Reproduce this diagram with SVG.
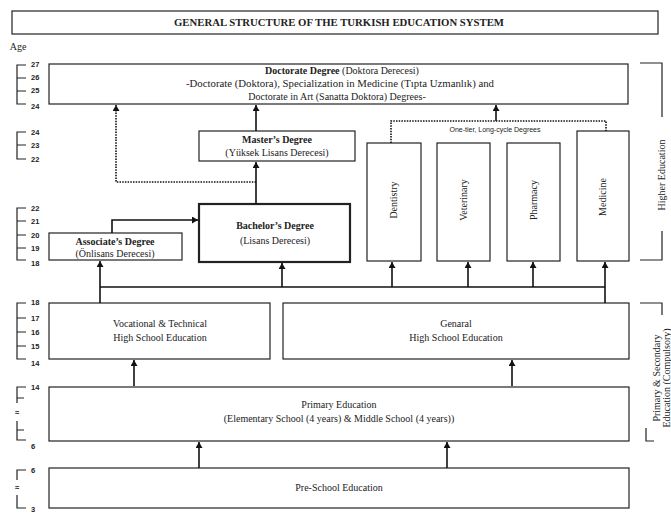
<svg xmlns="http://www.w3.org/2000/svg" width="671" height="515" viewBox="0 0 671 515">
<defs>
<marker id="ah" markerUnits="userSpaceOnUse" markerWidth="6" markerHeight="7" refX="6" refY="3.5" orient="auto"><path d="M0,0 L6,3.5 L0,7 z" fill="#111"/></marker>
<style>
.box{fill:#fff;stroke:#222;stroke-width:1.2}
.bold{stroke-width:2.2}
.t{font-family:"Liberation Serif",serif;font-size:10px;fill:#222;text-anchor:middle}
.b{font-weight:bold}
.s{font-family:"Liberation Sans",sans-serif;font-size:7px;fill:#222;text-anchor:middle}
.age{font-family:"Liberation Sans",sans-serif;font-size:7.5px;font-weight:bold;fill:#222}
.sc{fill:none;stroke:#222;stroke-width:1.2}
.c{fill:none;stroke:#111;stroke-width:1.6}
.d{fill:none;stroke:#111;stroke-width:1.6;stroke-dasharray:1.5 1.2}
</style>
</defs>
<rect width="671" height="515" fill="#fff"/>

<g id="title">
<rect class="box" x="12" y="11" width="646" height="23"/>
<text class="t b" x="339" y="26" font-size="10" textLength="330" lengthAdjust="spacingAndGlyphs">GENERAL STRUCTURE OF THE TURKISH EDUCATION SYSTEM</text>
</g>
<text class="t" x="18" y="50" text-anchor="start" font-size="9">Age</text>

<g id="age-scale">
<path class="sc" d="M26,65 H17 V104 H26 M17,78 H26 M17,91 H26"/>
<text class="age" x="31" y="67">27</text><text class="age" x="31" y="80">26</text><text class="age" x="31" y="93">25</text><text class="age" x="31" y="109">24</text>
<path class="sc" d="M26,132 H17 V159 H26 M17,145 H26"/>
<text class="age" x="31" y="135">24</text><text class="age" x="31" y="148">23</text><text class="age" x="31" y="162">22</text>
<path class="sc" d="M26,208 H17 V260 H26 M17,221 H26 M17,235 H26 M17,248 H26"/>
<text class="age" x="31" y="211">22</text><text class="age" x="31" y="224">21</text><text class="age" x="31" y="238">20</text><text class="age" x="31" y="251">19</text><text class="age" x="31" y="266">18</text>
<path class="sc" d="M26,303 H17 V359 H26 M17,318 H26 M17,332 H26 M17,346 H26"/>
<text class="age" x="31" y="305">18</text><text class="age" x="31" y="321">17</text><text class="age" x="31" y="335">16</text><text class="age" x="31" y="349">15</text><text class="age" x="31" y="366">14</text>
<path class="sc" d="M26,387 H17 V403 M17,398 H24 M17,421 V440 H26 M17,430 H24"/>
<text class="age" x="31" y="390">14</text><text class="age" x="31" y="449">6</text>
<text class="age" x="15" y="415" font-size="7">≈</text>
<path class="sc" d="M26,470 H17 V480 M17,495 V508 H26"/>
<text class="age" x="31" y="473">6</text><text class="age" x="31" y="512">3</text>
<text class="age" x="15" y="490" font-size="7">≈</text>
</g>

<g id="side-labels">
<path class="sc" d="M640,63 H662 V117 M662,231 V260 H640"/>
<text class="t" transform="translate(665,175) rotate(-90)">Higher Education</text>
<path class="sc" d="M640,303 H662 V315 M646,428 V441 H654"/>
<text class="t" transform="translate(660,378) rotate(-90)">Primary &amp; Secondary</text>
<text class="t" transform="translate(670,378) rotate(-90)">Education (Compulsory)</text>
</g>

<g id="doctorate">
<rect class="box" x="49" y="64" width="579" height="40"/>
<text class="t" x="342" y="74" font-size="10.5"><tspan class="b">Doctorate Degree</tspan> (Doktora Derecesi)</text>
<text class="t" x="340" y="87" font-size="10.5" textLength="308" lengthAdjust="spacingAndGlyphs">-Doctorate (Doktora), Specialization in Medicine (Tıpta Uzmanlık) and</text>
<text class="t" x="337" y="100" font-size="10.5">Doctorate in Art (Sanatta Doktora) Degrees-</text>
</g>
<g id="masters">
<rect class="box" x="199" y="131" width="156" height="30"/>
<text class="t b" x="277" y="143">Master’s Degree</text>
<text class="t" x="277" y="156">(Yüksek Lisans Derecesi)</text>
</g>
<g id="bachelors">
<rect class="box bold" x="199" y="204" width="151" height="58"/>
<text class="t b" x="275" y="229">Bachelor’s Degree</text>
<text class="t" x="275" y="244">(Lisans Derecesi)</text>
</g>
<g id="associate">
<rect class="box" x="49" y="233" width="133" height="27"/>
<text class="t b" x="115" y="245">Associate’s Degree</text>
<text class="t" x="115" y="257">(Önlisans Derecesi)</text>
</g>
<g id="dentistry">
<rect class="box" x="367" y="143" width="54" height="118"/>
<text class="t" transform="translate(397,200) rotate(-90)">Dentistry</text>
</g>
<g id="veterinary">
<rect class="box" x="437" y="143" width="53" height="118"/>
<text class="t" transform="translate(467,200) rotate(-90)">Veterinary</text>
</g>
<g id="pharmacy">
<rect class="box" x="507" y="143" width="53" height="118"/>
<text class="t" transform="translate(537,200) rotate(-90)">Pharmacy</text>
</g>
<g id="medicine">
<rect class="box" x="577" y="131" width="52" height="130"/>
<text class="t" transform="translate(606,197) rotate(-90)">Medicine</text>
</g>
<g id="vocational">
<rect class="box" x="49" y="303" width="221" height="56"/>
<text class="t" x="160" y="327">Vocational &amp; Technical</text>
<text class="t" x="160" y="341">High School Education</text>
</g>
<g id="general">
<rect class="box" x="283" y="303" width="346" height="56"/>
<text class="t" x="456" y="327">Genaral</text>
<text class="t" x="456" y="341">High School Education</text>
</g>
<g id="primary">
<rect class="box" x="49" y="387" width="580" height="54"/>
<text class="t" x="339" y="408">Primary Education</text>
<text class="t" x="339" y="422">(Elementary School (4 years) &amp; Middle School (4 years))</text>
</g>
<g id="preschool">
<rect class="box" x="49" y="468" width="580" height="40"/>
<text class="t" x="339" y="491">Pre-School Education</text>
</g>

<g id="connectors">
<path class="c" d="M256,131 V105" marker-end="url(#ah)"/>
<path class="c" d="M256,204 V162" marker-end="url(#ah)"/>
<path class="d" d="M256,182 H116 V105" marker-end="url(#ah)"/>
<path class="c" d="M112,233 V220 H198" marker-end="url(#ah)"/>
<path class="d" d="M391,143 V121 H606 V131"/>
<path class="c" d="M496,121 V105" marker-end="url(#ah)"/>
<text class="s" x="495" y="132">One-tier, Long-cycle Degrees</text>
<path class="c" d="M100,287 H605" stroke-width="2.4"/>
<path class="c" d="M100,303 V261" marker-end="url(#ah)"/>
<path class="c" d="M282,287 V263" marker-end="url(#ah)"/>
<path class="c" d="M392,287 V262" marker-end="url(#ah)"/>
<path class="c" d="M468,287 V262" marker-end="url(#ah)"/>
<path class="c" d="M533,287 V262" marker-end="url(#ah)"/>
<path class="c" d="M605,303 V262" marker-end="url(#ah)"/>
<path class="c" d="M134,386 V360" marker-end="url(#ah)"/>
<path class="c" d="M512,386 V360" marker-end="url(#ah)"/>
<path class="c" d="M199,468 V442" marker-end="url(#ah)"/>
<path class="c" d="M447,468 V442" marker-end="url(#ah)"/>
</g>
</svg>
